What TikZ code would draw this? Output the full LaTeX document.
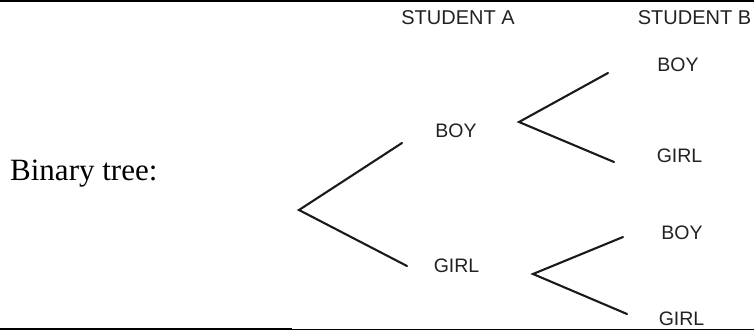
\documentclass[tikz,border=0pt]{standalone}
\usepackage{fontspec}
\setmainfont{Liberation Serif}
\setsansfont{Liberation Sans}
\usepackage{tikz}
\usetikzlibrary{positioning}
\definecolor{ink}{HTML}{1A1A1A}
\definecolor{lbl}{HTML}{222222}

\begin{document}
\begin{tikzpicture}[
  x=1pt, y=-1pt,
  lab/.style={anchor=base, inner sep=0pt, text=lbl,
              font=\sffamily\fontsize{19.5}{22}\selectfont},
  head/.style={lab, font=\sffamily\fontsize{20}{22}\selectfont},
  br/.style={draw=ink, line width=2.1pt, line cap=round, line join=miter},
  rule/.style={draw=black},
]
  \useasboundingbox (0,0) rectangle (754,331);
  % frame rules
  \coordinate (tl) at (0,1.1);      \coordinate (tr) at (754,1.1);
  \coordinate (bl) at (0,328.8);  \coordinate (bm) at (292,328.8);
  \coordinate (bm2) at (292,329.4); \coordinate (br2) at (754,329.4);
  \draw[rule, line width=2.2pt] (tl) -- (tr);
  \draw[rule, line width=2.3pt] (bl) -- (bm);
  \draw[rule, line width=0.9pt] (bm2) -- (br2);
  % caption
  \node[anchor=base west, inner sep=0pt, font=\fontsize{31}{34}\selectfont] (cap) at (10,181) {Binary tree:};
  % column heads
  \node[head] (sa) at (458,25) {STUDENT A};
  \node[head] (sb) at (694.5,25) {STUDENT B};
  % labels
  \node[lab] (aboy)  at (456,138)   {BOY};
  \node[lab] (agirl) at (456.5,272) {GIRL};
  \node[lab] (bboy1)  at (678,72)    {BOY};
  \node[lab] (bgirl1) at (679.5,163) {GIRL};
  \node[lab] (bboy2)  at (682,239)   {BOY};
  \node[lab] (bgirl2) at (681.5,325) {GIRL};
  % branch points and ends
  \coordinate (root) at (299,210);
  \coordinate (ra) at (402,143);  \coordinate (rb) at (407,266);
  \coordinate (s1) at (519,122);
  \coordinate (s1a) at (608,73);  \coordinate (s1b) at (614,162);
  \coordinate (s2) at (533,274);
  \coordinate (s2a) at (623,237); \coordinate (s2b) at (627,314);
  \draw[br] (ra) -- (root) -- (rb);
  \draw[br] (s1a) -- (s1) -- (s1b);
  \draw[br] (s2a) -- (s2) -- (s2b);
\end{tikzpicture}
\end{document}
